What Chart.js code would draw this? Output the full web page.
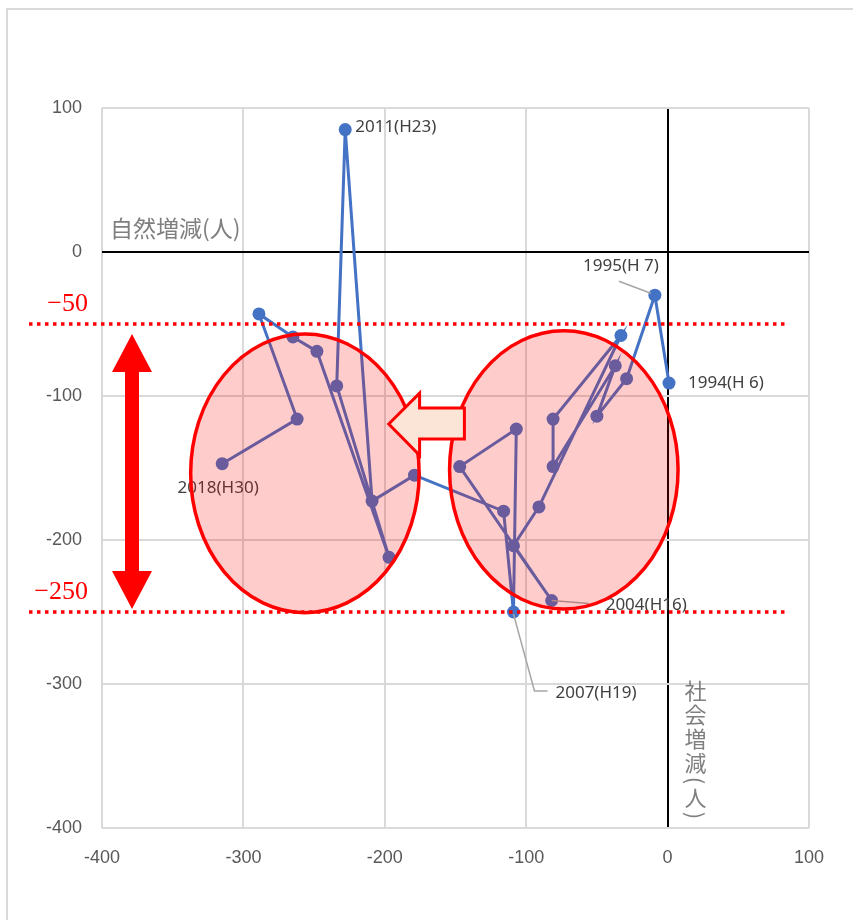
<!DOCTYPE html>
<html lang="ja">
<head>
<meta charset="utf-8">
<title>自然増減と社会増減の推移</title>
<script src="https://cdn.jsdelivr.net/npm/chart.js@4.4.1/dist/chart.umd.min.js"></script>
<style>
  html, body { margin: 0; padding: 0; background: #fff; }
  #wrap { position: relative; width: 853px; height: 920px; }
</style>
</head>
<body>
<div id="wrap"><canvas id="myChart" width="853" height="920"></canvas></div>
<script>
'use strict';

// 年
const years = [1994, 1995, 1996, 1997, 1998, 1999, 2000, 2001, 2002, 2003, 2004, 2005, 2006,
  2007, 2008, 2009, 2010, 2011, 2012, 2013, 2014, 2015, 2016, 2017, 2018];
// 社会増減（人） … 横軸
const socialChange = [1, -9, -29, -50, -37, -81, -81, -33, -91, -109, -82, -147, -107,
  -109, -116, -179, -209, -228, -234, -197, -248, -265, -289, -262, -315];
// 自然増減（人） … 縦軸
const naturalChange = [-91, -30, -88, -114, -79, -149, -116, -58, -177, -204, -242, -149, -123,
  -250, -180, -155, -173, 85, -93, -212, -69, -59, -43, -116, -147];
// 目盛
const xTicks = [-400, -300, -200, -100, 0, 100];
const yTicks = [-400, -300, -200, -100, 0, 100];
// 年ラベル
const yearLabels = {
  1994: '1994(H 6)',
  1995: '1995(H 7)',
  2004: '2004(H16)',
  2007: '2007(H19)',
  2011: '2011(H23)',
  2018: '2018(H30)'
};
// 目安線
const guideValues = [-50, -250];
const guideTexts = ['\u221250', '\u2212250'];

const points = years.map((yr, i) => ({ x: socialChange[i], y: naturalChange[i] }));

// ラベルの置き方
const labelPlace = {
  1994: { dx: 19, dy: 0, align: 'left' },
  1995: { dx: 4, dy: -29, align: 'right', leader: [[-4, -2], [-36, -14]] },
  2004: { dx: 54, dy: 5, align: 'left', leader: [[0, 0], [37, 3]] },
  2007: { dx: 42, dy: 81, align: 'left', leader: [[0, 2], [21, 79], [34, 79]] },
  2011: { dx: 10, dy: -2, align: 'left' },
  2018: { dx: -4, dy: 24, align: 'center' }
};

const overlay = {
  id: 'overlay',
  beforeDraw(chart) {
    const ctx = chart.ctx;
    ctx.save();
    ctx.strokeStyle = '#d9d9d9';
    ctx.lineWidth = 2;
    ctx.beginPath();
    ctx.moveTo(7, 940);
    ctx.lineTo(7, 9);
    ctx.lineTo(870, 9);
    ctx.stroke();
    ctx.restore();
  },
  afterDatasetsDraw(chart) {
    const { ctx, scales: { x, y } } = chart;
    const meta = chart.getDatasetMeta(0);
    ctx.save();

    // 年ラベルと引き出し線
    ctx.font = '17px "Noto Sans"';
    ctx.fillStyle = '#404040';
    ctx.textBaseline = 'middle';
    years.forEach((yr, i) => {
      const p = labelPlace[yr];
      if (!p) return;
      const pt = meta.data[i];
      if (p.leader) {
        ctx.strokeStyle = '#a6a6a6';
        ctx.lineWidth = 1.5;
        ctx.beginPath();
        p.leader.forEach(([lx, ly], k) => {
          if (k === 0) ctx.moveTo(pt.x + lx, pt.y + ly);
          else ctx.lineTo(pt.x + lx, pt.y + ly);
        });
        ctx.stroke();
      }
      ctx.textAlign = p.align;
      ctx.fillText(yearLabels[yr], pt.x + p.dx, pt.y + p.dy);
    });

    // 楕円
    const ellipses = [
      { cx: -256.5, cy: -153.7, rx: 80.8, ry: 96.8 },
      { cx: -73.4, cy: -151.3, rx: 80.8, ry: 96.6 }
    ];
    ellipses.forEach(e => {
      const cx = x.getPixelForValue(e.cx);
      const cy = y.getPixelForValue(e.cy);
      const rx = x.getPixelForValue(e.cx + e.rx) - cx;
      const ry = cy - y.getPixelForValue(e.cy + e.ry);
      ctx.beginPath();
      ctx.ellipse(cx, cy, rx, ry, 0, 0, Math.PI * 2);
      ctx.fillStyle = 'rgba(255, 0, 0, 0.2)';
      ctx.fill();
      ctx.strokeStyle = '#ff0000';
      ctx.lineWidth = 3.5;
      ctx.stroke();
    });

    // 左向き矢印
    const tipX = x.getPixelForValue(-197.2);
    const headX = x.getPixelForValue(-175.4);
    const tailX = x.getPixelForValue(-143.7);
    const midY = y.getPixelForValue(-119.4);
    const headTop = y.getPixelForValue(-98);
    const headBot = y.getPixelForValue(-141.2);
    const shaftTop = y.getPixelForValue(-108.4);
    const shaftBot = y.getPixelForValue(-129.8);
    ctx.beginPath();
    ctx.moveTo(tipX, midY);
    ctx.lineTo(headX, headTop);
    ctx.lineTo(headX, shaftTop);
    ctx.lineTo(tailX, shaftTop);
    ctx.lineTo(tailX, shaftBot);
    ctx.lineTo(headX, shaftBot);
    ctx.lineTo(headX, headBot);
    ctx.closePath();
    ctx.fillStyle = '#fbe5d6';
    ctx.fill();
    ctx.strokeStyle = '#ff0000';
    ctx.lineWidth = 3;
    ctx.lineJoin = 'miter';
    ctx.stroke();

    // 目安線
    const guidePx = guideValues.map(v => y.getPixelForValue(v));
    ctx.strokeStyle = '#ff0000';
    ctx.lineWidth = 3.5;
    ctx.setLineDash([3.5, 4.5]);
    guidePx.forEach(py => {
      ctx.beginPath();
      ctx.moveTo(29, py);
      ctx.lineTo(786, py);
      ctx.stroke();
    });
    ctx.setLineDash([]);
    ctx.font = '26px "Liberation Serif"';
    ctx.fillStyle = '#ff0000';
    ctx.textAlign = 'right';
    ctx.textBaseline = 'alphabetic';
    guideTexts.forEach((t, i) => ctx.fillText(t, 88, guidePx[i] - 13));

    // 上下矢印
    const ax = 132;
    const top = guidePx[0] + 10;
    const bot = guidePx[1] - 3;
    const hw = 20, hl = 38, sw = 7;
    ctx.beginPath();
    ctx.moveTo(ax, top);
    ctx.lineTo(ax + hw, top + hl);
    ctx.lineTo(ax + sw, top + hl);
    ctx.lineTo(ax + sw, bot - hl);
    ctx.lineTo(ax + hw, bot - hl);
    ctx.lineTo(ax, bot);
    ctx.lineTo(ax - hw, bot - hl);
    ctx.lineTo(ax - sw, bot - hl);
    ctx.lineTo(ax - sw, top + hl);
    ctx.lineTo(ax - hw, top + hl);
    ctx.closePath();
    ctx.fillStyle = '#ff0000';
    ctx.fill();

    // 軸タイトル
    ctx.fillStyle = '#7f7f7f';
    ctx.font = '23px "Noto Sans CJK JP"';
    ctx.textAlign = 'left';
    ctx.textBaseline = 'middle';
    ctx.fillText('自然増減(人)', x.left + 8, y.getPixelForValue(0) - 24);

    // 縦書き
    ctx.font = '22px "Noto Sans CJK JP"';
    ctx.textAlign = 'center';
    const vx = x.getPixelForValue(0) + 28;
    let vy = y.getPixelForValue(-300) - 5;
    const vChars = ['社', '会', '増', '減', '(', '人', ')'];
    vChars.forEach(ch => {
      const paren = ch === '(' || ch === ')';
      const adv = paren ? 11 : 24;
      const cy = vy + adv / 2;
      if (paren) {
        ctx.save();
        ctx.translate(vx, cy);
        ctx.rotate(Math.PI / 2);
        ctx.fillText(ch, 0, 0);
        ctx.restore();
      } else {
        ctx.fillText(ch, vx, cy);
      }
      vy += adv;
    });

    ctx.restore();
  }
};

const gridColor = c => (c.tick && c.tick.value === 0 ? '#000000' : '#d9d9d9');

new Chart(document.getElementById('myChart'), {
  type: 'scatter',
  data: {
    datasets: [{
      data: points,
      showLine: true,
      borderColor: '#4472c4',
      borderWidth: 3,
      pointRadius: 6.5,
      pointBorderWidth: 0,
      pointBackgroundColor: '#4472c4',
      tension: 0
    }]
  },
  options: {
    responsive: false,
    animation: false,
    devicePixelRatio: 1,
    layout: { padding: { top: 108, right: 44, left: 0, bottom: 0 } },
    plugins: {
      legend: { display: false },
      tooltip: { enabled: false }
    },
    scales: {
      x: {
        type: 'linear',
        min: xTicks[0],
        max: xTicks[xTicks.length - 1],
        afterBuildTicks: s => { s.ticks = xTicks.map(v => ({ value: v })); },
        afterFit: s => { s.height = 92; },
        border: { display: false },
        grid: { color: gridColor, lineWidth: 2, drawTicks: false },
        ticks: { color: '#595959', padding: 19, font: { family: 'Liberation Sans', size: 18 } }
      },
      y: {
        type: 'linear',
        min: yTicks[0],
        max: yTicks[yTicks.length - 1],
        afterBuildTicks: s => { s.ticks = yTicks.map(v => ({ value: v })); },
        afterFit: s => { s.width = 102; },
        border: { display: false },
        grid: { color: gridColor, lineWidth: 2, drawTicks: false },
        ticks: { color: '#595959', padding: 20, font: { family: 'Liberation Sans', size: 18 } }
      }
    }
  },
  plugins: [overlay]
});
</script>
</body>
</html>
